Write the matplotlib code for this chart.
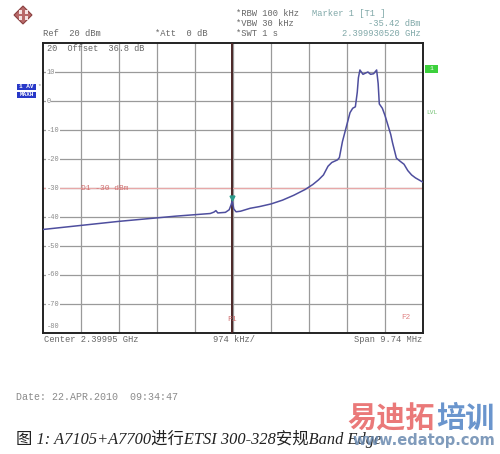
import matplotlib
matplotlib.use("Agg")
import matplotlib.pyplot as plt
from matplotlib.patches import Polygon, Rectangle
import numpy as np

# ---------------- data ----------------
center_ghz = 2.39995
span_mhz = 9.74
ref_level = 20
db_per_div = 10
ylim_db = (-80, 20)
ytick_db = [20, 10, 0, -10, -20, -30, -40, -50, -60, -70, -80]
display_line_db = -30
marker_div = 4.98
marker_db = -35.42

# trace position in screen divisions (0..10) and level in dBm
trace_div = [0.0, 0.5, 1.0, 1.5, 2.0, 2.5, 3.0, 3.5, 4.0, 4.4, 4.5, 4.55, 4.6,
             4.8, 4.9, 4.95, 4.98, 5.02, 5.08, 5.2, 5.45, 5.7, 6.0, 6.3, 6.6,
             6.9, 7.1, 7.25, 7.38, 7.5, 7.6, 7.75, 7.8, 7.88, 8.0, 8.08, 8.15,
             8.22, 8.27, 8.3, 8.34, 8.42, 8.5, 8.55, 8.62, 8.7, 8.78, 8.82,
             8.85, 8.93, 9.0, 9.06, 9.15, 9.2, 9.3, 9.4, 9.5, 9.6, 9.7, 9.8, 10.0]
trace_db = [-44.3, -43.6, -42.9, -42.2, -41.5, -40.9, -40.3, -39.7, -39.2, -38.8,
            -38.3, -37.8, -38.6, -38.4, -37.5, -35.8, -34.4, -37.2, -38.2, -38.0,
            -37.0, -36.4, -35.5, -34.2, -32.5, -30.5, -28.8, -27.2, -25.5, -22.5,
            -21.2, -20.3, -19.5, -14.0, -8.0, -4.0, -2.5, -2.0, 3.0, 8.0, 10.7,
            9.2, 9.7, 10.0, 9.2, 9.4, 10.7, 6.0, -1.0, -2.5, -5.0, -7.6, -11.5,
            -14.5, -19.7, -20.8, -21.8, -24.0, -25.5, -26.5, -28.0]

# ---------------- figure ----------------
W, H = 500, 454
fig = plt.figure(figsize=(W / 100, H / 100), dpi=100)
fig.patch.set_facecolor("white")

start_mhz = -span_mhz / 2
step_mhz = span_mhz / 10
freq = [start_mhz + d * step_mhz for d in trace_div]
mfreq = start_mhz + marker_div * step_mhz

ax = fig.add_axes([43 / W, 1 - 333 / H, 380 / W, 290 / H])
ax.set_xlim(start_mhz, -start_mhz)
ax.set_ylim(*ylim_db)
for d in range(1, 10):
    ax.axvline(start_mhz + d * step_mhz, color="#9a9a9a", lw=0.9, zorder=1)
for v in ytick_db[1:-1]:
    ax.axhline(v, color="#9a9a9a", lw=0.9, zorder=1)
ax.set_xticks([])
ax.set_yticks([])
for s in ax.spines.values():
    s.set_linewidth(1.4)
    s.set_color("#222222")

mono = "Liberation Mono"
lbl_c = "#8a8a8a"
for v in ytick_db:
    if v == 20:
        continue
    va = "center" if v != -80 else "bottom"
    yv = v if v != -80 else v + 1.2
    ax.text(start_mhz + 0.09, yv, str(v), fontsize=5, family=mono, color=lbl_c,
            va=va, ha="left", zorder=3,
            bbox=dict(facecolor="white", edgecolor="none", pad=0.3))
ax.text(start_mhz + 0.09, 18.0, "20  Offset  36.8 dB", fontsize=6.2, family=mono,
        color="#666666", va="center", ha="left", zorder=3)

# display line D1
ax.axhline(display_line_db, color="#e8a8a8", lw=0.9, zorder=2)
ax.text(start_mhz + 1.0 * step_mhz, display_line_db, "D1 -30 dBm", fontsize=5.8,
        family=mono, color="#d07070", va="center", ha="left", zorder=3)

# marker/frequency line F1
ax.axvline(mfreq, color="#4a2626", lw=1.4, zorder=4)
ax.text(mfreq, -75.5, "F1", fontsize=5.8, family=mono, color="#d07070",
        va="center", ha="center", zorder=5)
ax.text(start_mhz + 9.55 * step_mhz, -74.5, "F2", fontsize=5.5, family=mono,
        color="#e08080", va="center", ha="center", zorder=5)

# trace
ax.plot(freq, trace_db, color="#4e4e9e", lw=1.1, zorder=6)
ax.plot([mfreq], [max(trace_db[14:19]) + 1.0], marker="v", color="#2a9a8a",
        markersize=3.5, zorder=7)


def T(x, y, s, **kw):
    kw.setdefault("family", mono)
    kw.setdefault("fontsize", 6.3)
    kw.setdefault("color", "#666666")
    kw.setdefault("va", "center")
    fig.text(x / W, 1 - y / H, s, **kw)


# header
T(43, 34, "Ref  20 dBm")
T(155, 34, "*Att  0 dB")
T(236, 13, "*RBW 100 kHz")
T(236, 24, "*VBW 30 kHz")
T(236, 34, "*SWT 1 s")
T(312, 13, "Marker 1 [T1 ]", color="#80a8a8")
T(421, 24, "-35.42 dBm", color="#80a8a8", ha="right")
T(421, 34, "2.399930520 GHz", color="#80a8a8", ha="right")

# footer of the screen
T(44, 340, "Center 2.39995 GHz")
T(234, 340, "974 kHz/", ha="center")
T(422, 340, "Span 9.74 MHz", ha="right")

# left side badges
for yy, s in [(87, "1 AV"), (95, "MAXH")]:
    fig.patches.append(Rectangle((17 / W, 1 - (yy + 3.3) / H), 19 / W, 6.6 / H,
                                 transform=fig.transFigure, facecolor="#2838c8",
                                 edgecolor="none"))
    T(26.5, yy, s, fontsize=4.3, color="white", ha="center", weight="bold")
T(39, 86, "*", fontsize=4.5, color="#888888", ha="center")

# right side badges
fig.patches.append(Rectangle((425 / W, 1 - 73 / H), 13 / W, 8 / H,
                             transform=fig.transFigure, facecolor="#3cd03c",
                             edgecolor="none"))
T(431.5, 69, "1", fontsize=4.5, color="white", ha="center")
T(431.5, 113, "LVL", fontsize=4.5, color="#70c070", ha="center")

# logo
cx, cy, r = 23, 15, 9
pts = [(cx, cy - r), (cx + r, cy), (cx, cy + r), (cx - r, cy)]
fig.patches.append(Polygon([(px / W, 1 - py / H) for px, py in pts], closed=True,
                           transform=fig.transFigure, facecolor="#b86a6a",
                           edgecolor="#8a4040", lw=0.8))
for ddx, ddy in [(-3, -3), (3, 3), (3, -3), (-3, 3)]:
    fig.patches.append(Rectangle(((cx + ddx - 1.5) / W, 1 - (cy + ddy + 1.5) / H),
                                 3 / W, 3 / H, transform=fig.transFigure,
                                 facecolor="#f4e4e4", edgecolor="none"))

# date
T(16, 397, "Date: 22.APR.2010  09:34:47", fontsize=7.2, color="#8a8a8a")

# watermark
T(347, 418, "易迪拓", family=["Noto Sans CJK SC"], fontsize=21, weight="bold",
  color="#e86a6a", ha="left", alpha=0.9)
T(436, 418, "培训", family=["Noto Sans CJK SC"], fontsize=21, weight="bold",
  color="#5a8ac8", ha="left", alpha=0.9)

# caption
T(16, 439, "图 1: A7105+A7700进行ETSI 300-328安规Band Edge",
  family=["Liberation Serif", "Noto Sans CJK SC"], style="italic",
  fontsize=11.8, color="#222222", ha="left")

T(495, 441, "www.edatop.com", family=["DejaVu Sans"], fontsize=10.5,
  weight="bold", color="#6a8ab0", ha="right", alpha=0.85)

fig.savefig("out.png", dpi=100)
